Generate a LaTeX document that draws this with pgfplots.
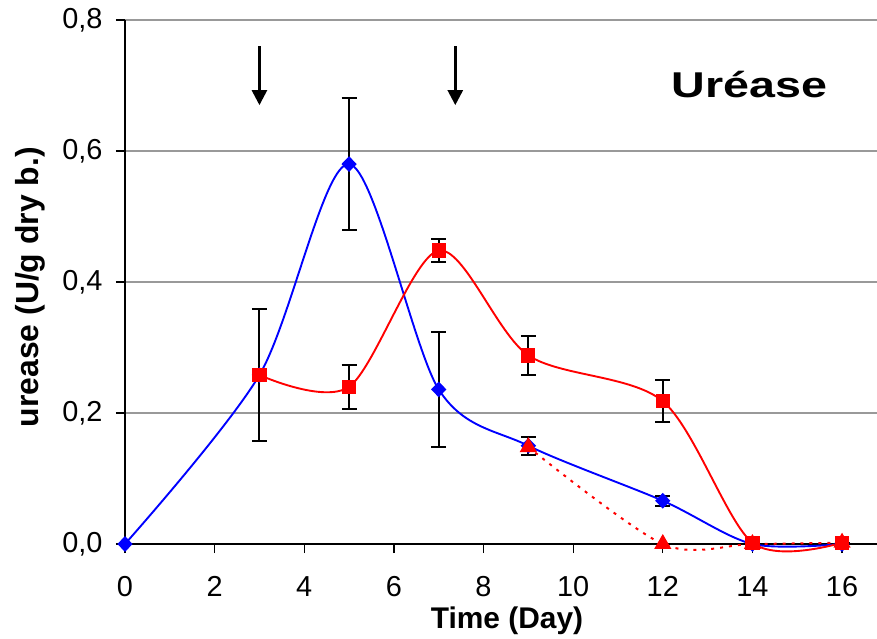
\documentclass[border=0pt]{standalone}
\usepackage{pgfplots}
\pgfplotsset{compat=1.18}
\usepackage{fontspec}
\setmainfont{Liberation Sans}
\usetikzlibrary{arrows.meta}
\begin{document}
\begin{tikzpicture}
\useasboundingbox (-125bp,-95bp) rectangle (752bp,544bp);
\begin{axis}[
  at={(0,0)}, anchor=south west,
  scale only axis, width=752bp, height=524bp,
  xmin=0, xmax=16.78, ymin=0, ymax=0.8,
  axis x line*=bottom, axis y line*=left,
  axis line style={black, line width=1.4pt},
  xtick={0,2,...,16}, ytick={0,0.2,0.4,0.6,0.8},
  ymajorgrids, grid style={black!40, line width=1.1pt},
  tick align=outside, major tick length=9bp,
  tick style={black, line width=1.3pt},
  /pgf/number format/assume math mode=true,
  yticklabel style={/pgf/number format/use comma, /pgf/number format/fixed, /pgf/number format/fixed zerofill, /pgf/number format/precision=1, xshift=-10bp},
  ticklabel style={font=\fontsize{29}{33}\selectfont},
  xticklabel style={yshift=-20bp},
  xlabel={\textbf{Time (Day)}},
  ylabel={\textbf{urease (U/g dry b.)}},
  xlabel style={font=\fontsize{30}{34}\selectfont, at={(axis description cs:0.508,0)}, anchor=center, yshift=-77bp},
  ylabel style={font=\fontsize{32}{36}\selectfont, at={(axis description cs:0,0.49)}, anchor=center, yshift=95bp},
  clip=false,
]
% blue
\addplot[blue, line width=1.9pt, smooth, tension=0.5, mark=diamond*, mark size=6.5bp,
  mark options={solid, fill=blue, xscale=1.3},
  error bars/.cd, y dir=both, y explicit,
  error bar style={black, line width=2pt},
  error mark options={black, rotate=90, mark size=7.5bp, line width=2pt}]
coordinates {
 (0,0) +- (0,0)
 (3,0.258) +- (0,0.101)
 (5,0.580) +- (0,0.101)
 (7,0.236) +- (0,0.088)
 (9,0.150) +- (0,0.014)
 (12,0.066) +- (0,0.008)
 (14,0.000) +- (0,0)
 (16,0.000) +- (0,0)
};
% red solid
\addplot[red, line width=1.9pt, smooth, tension=0.5, mark=square*, mark size=6.2bp,
  mark options={solid, fill=red},
  error bars/.cd, y dir=both, y explicit,
  error bar style={black, line width=2pt},
  error mark options={black, rotate=90, mark size=7.5bp, line width=2pt}]
coordinates {
 (3,0.258) +- (0,0)
 (5,0.240) +- (0,0.034)
 (7,0.448) +- (0,0.017)
 (9,0.288) +- (0,0.030)
 (12,0.218) +- (0,0.032)
 (14,0.002) +- (0,0)
 (16,0.002) +- (0,0)
};
% red dotted
\addplot[red, line width=2pt, dash pattern=on 3pt off 6pt, smooth, tension=0.5,
  mark=triangle*, mark size=8bp, mark options={solid, fill=red}]
coordinates {
 (9,0.148) (12,0.000) (14,0.000) (16,0.002)
};
\draw[-{Triangle[length=15bp,width=15bp]}, line width=2.6pt] (axis cs:3,0.76) -- (axis cs:3,0.67);
\draw[-{Triangle[length=15bp,width=15bp]}, line width=2.6pt] (axis cs:7.37,0.76) -- (axis cs:7.37,0.67);
\node[anchor=base, font=\fontsize{36}{42}\selectfont\bfseries] at (axis cs:13.93,0.6824) {\scalebox{1.3}[1]{Uréase}};
\end{axis}
\end{tikzpicture}
\end{document}
